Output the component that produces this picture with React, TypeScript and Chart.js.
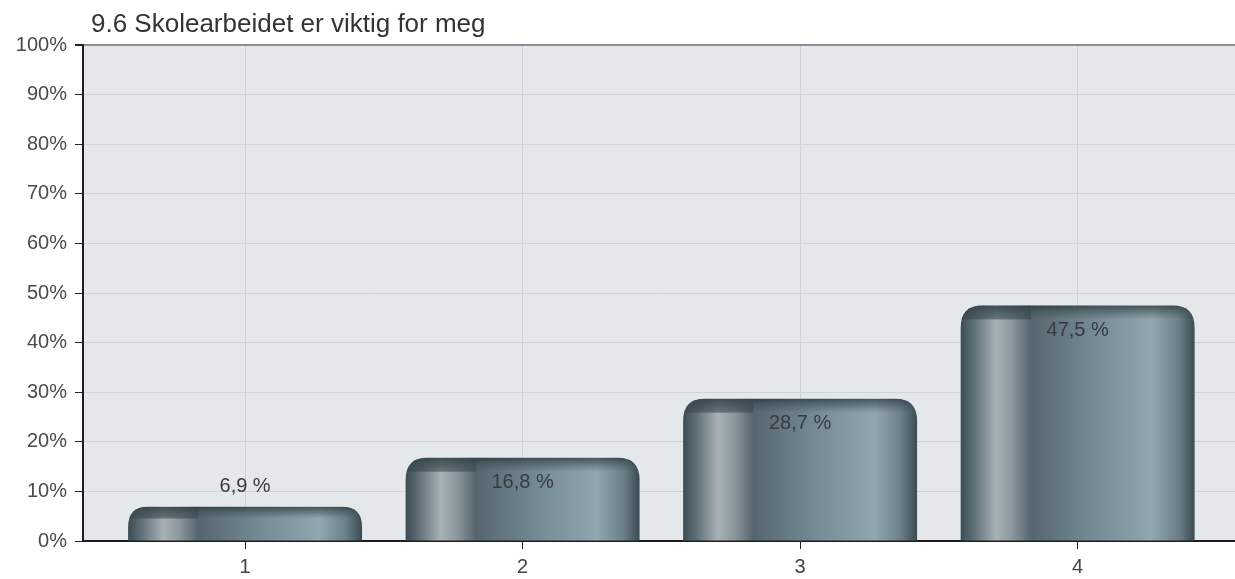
import React, { useEffect, useRef } from "react";
import { Chart, registerables } from "chart.js";

Chart.register(...registerables);

const TITLE = "9.6 Skolearbeidet er viktig for meg";
const categories = [1, 2, 3, 4];
const values = [6.9, 16.8, 28.7, 47.5];
const valueLabels = ["6,9 %", "16,8 %", "28,7 %", "47,5 %"];
const yTicks = [0, 10, 20, 30, 40, 50, 60, 70, 80, 90, 100];

const FONT = "'Liberation Sans', Arial, sans-serif";

const decorPlugin = {
  id: "decor",
  beforeDraw(chart: any) {
    const { ctx, chartArea } = chart;
    ctx.save();
    ctx.fillStyle = "#ffffff";
    ctx.fillRect(0, 0, chart.width, chart.height);
    ctx.fillStyle = "#e5e8eb";
    ctx.fillRect(chartArea.left, chartArea.top, chartArea.right - chartArea.left, chartArea.bottom - chartArea.top);
    ctx.fillStyle = "#333";
    ctx.font = `26px ${FONT}`;
    ctx.textBaseline = "alphabetic";
    ctx.textAlign = "left";
    ctx.fillText(TITLE, 91, 32);
    ctx.restore();
  },
  afterDatasetsDraw(chart: any) {
    const { ctx } = chart;
    const meta = chart.getDatasetMeta(0);
    ctx.save();
    meta.data.forEach((bar: any, i: number) => {
      const w = bar.width;
      const xl = bar.x - w / 2;
      const xr = bar.x + w / 2;
      const top = bar.y;
      const base = bar.base;
      const h = base - top;
      const r = Math.min(22, h * 0.6, w / 2);
      const path = () => {
        ctx.beginPath();
        ctx.moveTo(xl, base);
        ctx.lineTo(xl, top + r);
        ctx.quadraticCurveTo(xl, top, xl + r, top);
        ctx.lineTo(xr - r, top);
        ctx.quadraticCurveTo(xr, top, xr, top + r);
        ctx.lineTo(xr, base);
        ctx.closePath();
      };
      const g = ctx.createLinearGradient(xl, 0, xr, 0);
      g.addColorStop(0, "#3c4c54");
      g.addColorStop(0.06, "#62727a");
      g.addColorStop(0.15, "#a7b1b6");
      g.addColorStop(0.22, "#8b979d");
      g.addColorStop(0.3, "#56666e");
      g.addColorStop(0.55, "#738892");
      g.addColorStop(0.82, "#92a6b0");
      g.addColorStop(0.93, "#6c7f88");
      g.addColorStop(1, "#3b4b53");
      path();
      ctx.fillStyle = g;
      ctx.fill();
      ctx.save();
      path();
      ctx.clip();
      const capH = Math.min(14, h * 0.35);
      const vg = ctx.createLinearGradient(0, top, 0, top + capH);
      vg.addColorStop(0, "rgba(40,55,62,0.75)");
      vg.addColorStop(0.5, "rgba(60,75,82,0.45)");
      vg.addColorStop(1, "rgba(60,75,82,0.0)");
      ctx.fillStyle = vg;
      ctx.fillRect(xl, top, w, capH);
      ctx.fillStyle = "rgba(55,70,78,0.55)";
      ctx.fillRect(xl, top, w * 0.3, capH);
      ctx.restore();

      ctx.fillStyle = "#363b40";
      ctx.font = `20px ${FONT}`;
      ctx.textAlign = "center";
      ctx.textBaseline = "middle";
      const inside = h > 50;
      const ly = inside ? top + 25 : top - 20;
      ctx.fillText(valueLabels[i], bar.x, ly);
    });
    ctx.restore();
  },
};

export default function App() {
  const ref = useRef<HTMLCanvasElement | null>(null);
  useEffect(() => {
    if (!ref.current) return;
    const chart = new Chart(ref.current, {
      type: "bar",
      data: {
        datasets: [
          {
            data: categories.map((c, i) => ({ x: c, y: values[i] })),
            backgroundColor: "rgba(0,0,0,0)",
            barPercentage: 0.843,
            categoryPercentage: 1,
          },
        ],
      },
      options: {
        animation: false,
        responsive: false,
        maintainAspectRatio: false,
        layout: { padding: { top: 45, left: 0, right: 0, bottom: 0 } },
        plugins: { legend: { display: false }, tooltip: { enabled: false }, title: { display: false } },
        scales: {
          x: {
            type: "linear",
            offset: false,
            min: 0.416,
            max: 4.567,
            afterBuildTicks: (scale: any) => {
              scale.ticks = categories.map((c) => ({ value: c }));
            },
            afterFit: (scale: any) => {
              scale.height = 38;
            },
            ticks: {
              color: "#444",
              font: { family: FONT, size: 20 },
              padding: 6,
              maxRotation: 0,
              callback: (v: any) => String(v),
            },
            grid: { offset: false, color: "#cfd3d7", tickColor: "#222", tickLength: 8, lineWidth: 1 },
            border: { color: "#1e1e1e", width: 2 },
          },
          y: {
            min: 0,
            max: 100,
            afterBuildTicks: (scale: any) => {
              scale.ticks = yTicks.map((v) => ({ value: v }));
            },
            afterFit: (scale: any) => {
              scale.width = 83;
            },
            ticks: {
              color: "#4a4a4a",
              font: { family: FONT, size: 20 },
              padding: 8,
              callback: (v: any) => v + "%",
            },
            grid: {
              color: (ctx: any) => (ctx.tick && ctx.tick.value === 100 ? "#8d9195" : "#d0d4d8"),
              lineWidth: (ctx: any) => (ctx.tick && ctx.tick.value === 100 ? 2 : 1),
              tickColor: "#222",
              tickLength: 8,
            },
            border: { color: "#1e1e1e", width: 2 },
          },
        },
      },
      plugins: [decorPlugin],
    });
    return () => chart.destroy();
  }, []);
  return (
    <div style={{ position: "fixed", left: 0, top: 0, width: 1235, height: 579, background: "#fff" }}>
      <canvas ref={ref} width={1235} height={579} style={{ width: 1235, height: 579, display: "block" }} />
    </div>
  );
}
